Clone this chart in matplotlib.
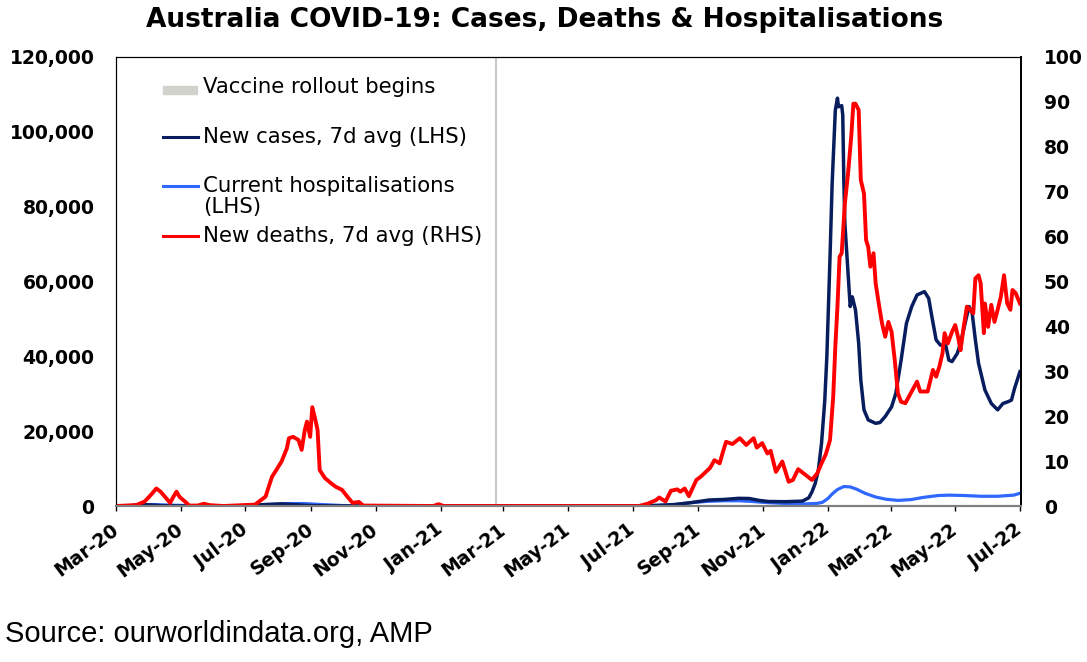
"""Australia COVID-19: cases, deaths & hospitalisations (dual axis)."""

import pandas as pd
import matplotlib
matplotlib.use("Agg")
import matplotlib.pyplot as plt
import matplotlib.dates as mdates
from matplotlib.ticker import FuncFormatter, MultipleLocator
from matplotlib.patches import Rectangle

# ---- data ----
cases_dates = [
    "2020-03-01", "2020-03-12", "2020-03-20", "2020-03-27", "2020-04-03", "2020-04-12",
    "2020-04-25", "2020-05-20", "2020-06-20", "2020-07-05", "2020-07-20", "2020-08-04",
    "2020-08-15", "2020-08-30", "2020-09-15", "2020-10-10", "2020-12-20", "2021-01-05",
    "2021-06-15", "2021-06-28", "2021-07-12", "2021-07-26", "2021-08-10", "2021-08-25",
    "2021-09-11", "2021-09-25", "2021-10-09", "2021-10-19", "2021-10-28", "2021-11-06",
    "2021-11-22", "2021-12-08", "2021-12-14", "2021-12-17", "2021-12-20", "2021-12-23",
    "2021-12-26", "2021-12-29", "2021-12-31", "2022-01-03", "2022-01-05", "2022-01-08",
    "2022-01-10", "2022-01-11", "2022-01-14", "2022-01-15", "2022-01-16", "2022-01-17",
    "2022-01-20", "2022-01-22", "2022-01-24", "2022-01-27", "2022-01-30", "2022-02-01",
    "2022-02-04", "2022-02-08", "2022-02-15", "2022-02-19", "2022-02-24", "2022-03-02",
    "2022-03-06", "2022-03-11", "2022-03-16", "2022-03-21", "2022-03-26", "2022-04-02",
    "2022-04-06", "2022-04-09", "2022-04-13", "2022-04-17", "2022-04-22", "2022-04-25",
    "2022-04-28", "2022-05-03", "2022-05-06", "2022-05-11", "2022-05-14", "2022-05-17",
    "2022-05-20", "2022-05-23", "2022-05-29", "2022-06-04", "2022-06-10", "2022-06-15",
    "2022-06-20", "2022-06-23", "2022-06-26", "2022-07-01",
]
cases = [
    3, 30, 250, 380, 280, 70,
    15, 12, 20, 150, 400, 560,
    380, 120, 40, 10, 15, 25,
    10, 25, 80, 180, 400, 900,
    1600, 1750, 2050, 2000, 1500, 1200,
    1150, 1300, 2200, 3800, 6000, 9600,
    16800, 28000, 39900, 66600, 86200, 105800,
    109000, 106700, 107000, 104500, 87100, 75500,
    62200, 53300, 55900, 52400, 43500, 33700,
    25700, 23000, 22100, 22300, 23900, 26500,
    30100, 39000, 48800, 53300, 56400, 57300,
    55500, 50600, 44400, 43000, 43000, 39000,
    38600, 40800, 43500, 49700, 53300, 51500,
    44400, 38100, 31000, 27400, 25700, 27400,
    27900, 28300, 31500, 35900,
]

hosp_dates = [
    "2020-03-01", "2020-03-20", "2020-04-05", "2020-04-25", "2020-05-20", "2020-07-01",
    "2020-07-20", "2020-08-10", "2020-08-25", "2020-09-10", "2020-10-01", "2020-10-20",
    "2021-01-01", "2021-06-30", "2021-07-20", "2021-08-10", "2021-08-25", "2021-09-10",
    "2021-09-25", "2021-10-10", "2021-10-22", "2021-11-05", "2021-11-20", "2021-12-10",
    "2021-12-22", "2021-12-27", "2022-01-01", "2022-01-05", "2022-01-10", "2022-01-16",
    "2022-01-22", "2022-01-28", "2022-02-05", "2022-02-15", "2022-02-25", "2022-03-08",
    "2022-03-20", "2022-04-01", "2022-04-15", "2022-04-25", "2022-05-10", "2022-05-25",
    "2022-06-10", "2022-06-25", "2022-07-01",
]
hosp = [
    0, 100, 400, 200, 60, 60,
    350, 650, 650, 400, 120, 30,
    20, 20, 100, 400, 900, 1250,
    1400, 1400, 1200, 900, 700, 550,
    700, 1000, 2000, 3200, 4400, 5200,
    5100, 4500, 3400, 2400, 1800, 1500,
    1700, 2300, 2800, 2900, 2800, 2600,
    2600, 2900, 3400,
]

deaths_dates = [
    "2020-03-01", "2020-03-20", "2020-03-28", "2020-04-03", "2020-04-08", "2020-04-12",
    "2020-04-17", "2020-04-21", "2020-04-24", "2020-04-27", "2020-04-30", "2020-05-05",
    "2020-05-09", "2020-05-17", "2020-05-23", "2020-05-28", "2020-06-10", "2020-07-10",
    "2020-07-20", "2020-07-26", "2020-07-29", "2020-08-04", "2020-08-09", "2020-08-11",
    "2020-08-15", "2020-08-20", "2020-08-23", "2020-08-26", "2020-08-28", "2020-08-31",
    "2020-09-02", "2020-09-05", "2020-09-07", "2020-09-09", "2020-09-14", "2020-09-19",
    "2020-09-24", "2020-09-30", "2020-10-05", "2020-10-10", "2020-10-16", "2020-10-20",
    "2020-12-25", "2020-12-30", "2021-01-04", "2021-07-07", "2021-07-15", "2021-07-23",
    "2021-07-26", "2021-08-01", "2021-08-06", "2021-08-12", "2021-08-15", "2021-08-19",
    "2021-08-23", "2021-08-30", "2021-09-03", "2021-09-08", "2021-09-12", "2021-09-16",
    "2021-09-21", "2021-09-24", "2021-09-27", "2021-10-03", "2021-10-10", "2021-10-16",
    "2021-10-23", "2021-10-26", "2021-10-31", "2021-11-05", "2021-11-08", "2021-11-13",
    "2021-11-19", "2021-11-25", "2021-11-29", "2021-12-04", "2021-12-11", "2021-12-17",
    "2021-12-22", "2021-12-26", "2021-12-30", "2022-01-03", "2022-01-06", "2022-01-08",
    "2022-01-10", "2022-01-12", "2022-01-14", "2022-01-17", "2022-01-20", "2022-01-23",
    "2022-01-25", "2022-01-27", "2022-01-30", "2022-02-01", "2022-02-04", "2022-02-06",
    "2022-02-08", "2022-02-10", "2022-02-13", "2022-02-15", "2022-02-18", "2022-02-21",
    "2022-02-24", "2022-02-27", "2022-03-02", "2022-03-05", "2022-03-08", "2022-03-11",
    "2022-03-15", "2022-03-21", "2022-03-26", "2022-03-29", "2022-04-02", "2022-04-05",
    "2022-04-10", "2022-04-13", "2022-04-16", "2022-04-19", "2022-04-21", "2022-04-24",
    "2022-04-28", "2022-05-01", "2022-05-04", "2022-05-06", "2022-05-09", "2022-05-12",
    "2022-05-15", "2022-05-18", "2022-05-20", "2022-05-23", "2022-05-25", "2022-05-28",
    "2022-05-29", "2022-06-01", "2022-06-04", "2022-06-07", "2022-06-10", "2022-06-13",
    "2022-06-16", "2022-06-19", "2022-06-22", "2022-06-24", "2022-06-27", "2022-07-01",
]
deaths = [
    0, 0.2, 1.0, 2.5, 3.9, 3.2,
    1.8, 0.7, 2.0, 3.2, 2.0, 1.0,
    0.1, 0.1, 0.5, 0.2, 0, 0.3,
    2.1, 6.5, 7.6, 9.9, 12.8, 15.1,
    15.4, 14.7, 12.5, 17.0, 18.8, 15.4,
    22.0, 19.1, 16.9, 8.0, 6.2, 5.2,
    4.3, 3.6, 2.1, 0.7, 0.9, 0.1,
    0, 0.4, 0, 0, 0.5, 1.3,
    1.9, 1.0, 3.4, 3.7, 3.2, 3.9,
    2.2, 5.8, 6.5, 7.6, 8.5, 10.2,
    9.5, 12.0, 14.3, 13.8, 15.1, 13.6,
    15.1, 13.0, 14.0, 11.7, 12.3, 7.6,
    9.9, 5.4, 5.8, 8.2, 6.9, 5.8,
    7.3, 9.5, 11.5, 14.7, 24.3, 35.5,
    44.4, 55.5, 56.3, 67.4, 74.1, 82.3,
    89.6, 89.6, 88.2, 72.6, 69.6, 59.2,
    57.7, 53.3, 56.3, 49.6, 45.0, 40.7,
    37.7, 41.0, 38.8, 32.5, 25.1, 23.2,
    22.9, 25.5, 27.7, 25.5, 25.5, 25.5,
    30.3, 28.8, 31.0, 34.0, 38.5, 36.2,
    38.8, 40.3, 37.3, 34.7, 39.9, 44.4,
    43.7, 42.9, 50.7, 51.4, 49.6, 38.5,
    45.1, 39.9, 44.8, 41.0, 43.7, 46.6,
    51.4, 45.1, 43.7, 48.1, 47.4, 45.1,
]

vaccine_date = "2021-02-22"

NAVY = "#081d5e"
BLUE = "#2f68ff"
RED = "#ff0000"
GREY = "#d2d2cc"

fig = plt.figure(figsize=(10.87, 6.62), dpi=100)
ax = fig.add_axes([116 / 1087, 1 - 506 / 662, 905 / 1087, 449 / 662])
ax2 = ax.twinx()

ax.axvline(pd.Timestamp(vaccine_date), color="#c8c8c8", lw=1.5, zorder=1)
ax.plot(pd.to_datetime(cases_dates), cases, color=NAVY, lw=2.5, zorder=3)
ax.plot(pd.to_datetime(hosp_dates), hosp, color=BLUE, lw=2.3, zorder=2)
ax2.plot(pd.to_datetime(deaths_dates), deaths, color=RED, lw=2.8)

ax.set_xlim(pd.Timestamp("2020-03-01"), pd.Timestamp("2022-07-02"))
ax.set_ylim(0, 120000)
ax2.set_ylim(0, 100)
ax.yaxis.set_major_locator(MultipleLocator(20000))
ax2.yaxis.set_major_locator(MultipleLocator(10))
ax.yaxis.set_major_formatter(FuncFormatter(lambda v, _: f"{v:,.0f}"))

ax.xaxis.set_major_locator(mdates.MonthLocator(bymonth=[1, 3, 5, 7, 9, 11]))
ax.xaxis.set_major_formatter(mdates.DateFormatter("%b-%y"))

tick_font = dict(family="DejaVu Sans", weight="bold", size=13.5)
ax.tick_params(axis="y", length=0, pad=15.5)
ax2.tick_params(axis="y", length=0, pad=16.5)
ax.tick_params(axis="x", length=3.6, width=1, direction="out", pad=12)
for lab in ax.get_yticklabels() + ax2.get_yticklabels():
    lab.set_fontproperties(tick_font)
for lab in ax.get_xticklabels():
    lab.set_fontproperties(tick_font)
    lab.set_rotation(37)
    lab.set_ha("right")
    lab.set_va("center")
    lab.set_rotation_mode("anchor")

for a in (ax, ax2):
    a.spines["left"].set_color("black")
    a.spines["top"].set_color("black")
    a.spines["right"].set_color("black")
    a.spines["right"].set_linewidth(1.3)
    a.spines["bottom"].set_color("#7f7f7f")
    a.spines["bottom"].set_linewidth(1.5)

# legend drawn by hand so the two-line entry lines up like the original
leg_font = dict(family="DejaVu Sans", size=15.3)
ax.add_patch(Rectangle((0.052, 0.918), 0.038, 0.018, transform=ax.transAxes,
                       color=GREY, clip_on=False, zorder=5))
ax.text(0.096, 0.9339, "Vaccine rollout begins", transform=ax.transAxes,
        va="center", ha="left", **leg_font)
rows = [
    (0.8225, NAVY, "New cases, 7d avg (LHS)"),
    (0.7134, BLUE, "Current hospitalisations"),
    (0.6013, RED, "New deaths, 7d avg (RHS)"),
]
for y, col, label in rows:
    ax.plot([0.052, 0.0906], [y, y], transform=ax.transAxes, color=col, lw=2.2)
    ax.text(0.096, y, label, transform=ax.transAxes, va="center", ha="left", **leg_font)
ax.text(0.096, 0.6666, "(LHS)", transform=ax.transAxes, va="center", ha="left", **leg_font)

fig.text(0.501, 1 - 26.7 / 662, "Australia COVID-19: Cases, Deaths & Hospitalisations",
         ha="center", va="baseline", family="DejaVu Sans", weight="bold", size=19)
fig.text(5 / 1087, 1 - 641.7 / 662, "Source: ourworldindata.org, AMP",
         ha="left", va="baseline", family="Liberation Sans", size=21)

fig.savefig("out.png", dpi=100)
